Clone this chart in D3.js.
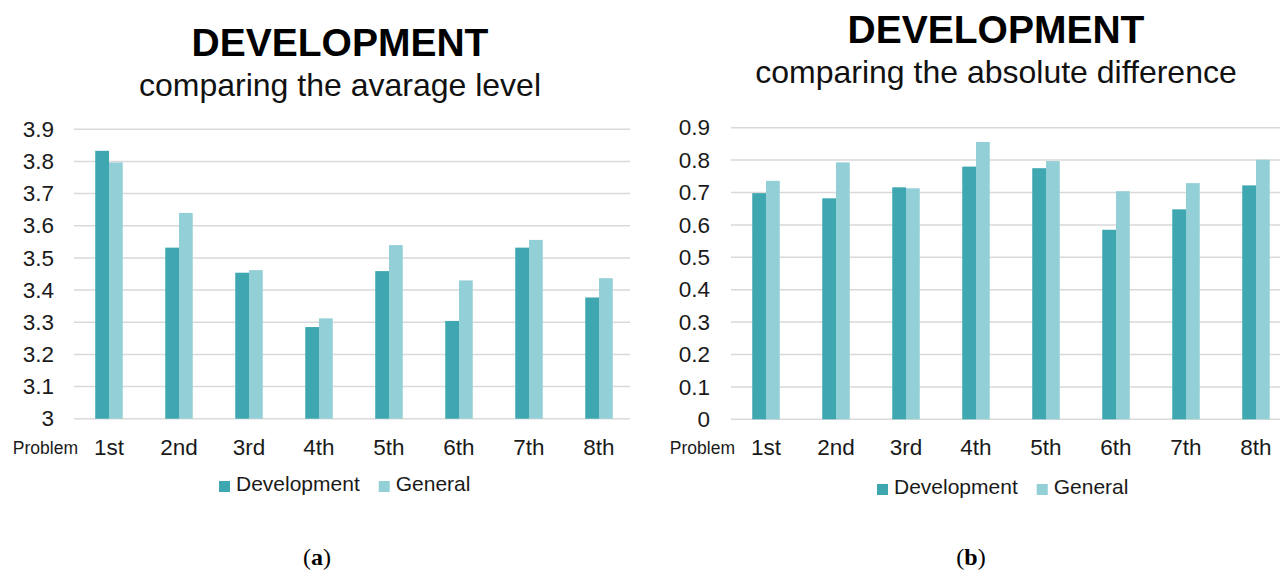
<!DOCTYPE html>
<html>
<head>
<meta charset="utf-8">
<script src="https://cdn.jsdelivr.net/npm/d3@7"></script>
<style>
  body { margin: 0; background: #fff; }
  svg { display: block; font-family: "Liberation Sans", Arial, sans-serif; }
</style>
</head>
<body>
<svg width="1280" height="572"></svg>
<script>
// problems on the x axis
const problems = ["1st", "2nd", "3rd", "4th", "5th", "6th", "7th", "8th"];
const seriesNames = ["Development", "General"];
const colors = ["#3ea7b0", "#93cfd6"];

// (a) average level
const avgDevelopment = [3.833, 3.532, 3.454, 3.285, 3.459, 3.304, 3.532, 3.377];
const avgGeneral     = [3.797, 3.640, 3.462, 3.312, 3.540, 3.430, 3.556, 3.437];
const avgTicks = [3, 3.1, 3.2, 3.3, 3.4, 3.5, 3.6, 3.7, 3.8, 3.9];

// (b) absolute difference
const absDevelopment = [0.698, 0.682, 0.716, 0.780, 0.775, 0.585, 0.648, 0.722];
const absGeneral     = [0.736, 0.793, 0.713, 0.856, 0.797, 0.704, 0.729, 0.801];
const absTicks = [0, 0.1, 0.2, 0.3, 0.4, 0.5, 0.6, 0.7, 0.8, 0.9];

const svg = d3.select("svg");

function panel(opt) {
  const g = svg.append("g");

  const x = d3.scaleBand().domain(problems).range(opt.xRange);
  const sub = d3.scaleBand().domain(seriesNames)
    .range([(x.step() - 27.5) / 2, (x.step() + 27.5) / 2]);
  const y = d3.scaleLinear().domain(opt.yDomain).range(opt.yRange);

  // titles
  g.append("text").attr("x", opt.cx).attr("y", opt.titleY)
    .attr("text-anchor", "middle").attr("font-size", 39).attr("font-weight", "bold")
    .attr("fill", "#000").text("DEVELOPMENT");
  g.append("text").attr("x", opt.cx).attr("y", opt.titleY + 40)
    .attr("text-anchor", "middle").attr("font-size", 32)
    .attr("fill", "#111").text(opt.subtitle);

  // gridlines
  g.selectAll(".grid").data(opt.ticks).enter().append("line")
    .attr("x1", opt.xRange[0]).attr("x2", opt.gridEnd)
    .attr("y1", d => y(d)).attr("y2", d => y(d))
    .attr("stroke", "#d9d9d9").attr("stroke-width", 1.5);

  // y axis labels
  const yAxis = g.append("g").attr("transform", `translate(${opt.labelX},0)`)
    .call(d3.axisLeft(y).tickValues(opt.ticks).tickSize(0).tickPadding(0)
      .tickFormat(d => d3.format("")(+d.toFixed(1))));
  yAxis.select(".domain").remove();
  yAxis.selectAll("text").attr("font-size", 22.5).attr("fill", "#1a1a1a")
    .attr("font-family", "Liberation Sans, Arial, sans-serif");

  // bars
  const rows = problems.map((p, i) => ({ p, vals: [opt.dev[i], opt.gen[i]] }));
  const groups = g.selectAll(".grp").data(rows).enter().append("g")
    .attr("transform", d => `translate(${x(d.p)},0)`);
  groups.selectAll("rect").data(d => d.vals.map((v, k) => ({ k, v }))).enter().append("rect")
    .attr("x", d => sub(seriesNames[d.k]))
    .attr("width", sub.bandwidth())
    .attr("y", d => y(d.v))
    .attr("height", d => y(opt.yDomain[0]) - y(d.v))
    .attr("fill", d => colors[d.k]);

  // x labels
  g.selectAll(".xl").data(problems).enter().append("text")
    .attr("x", d => x(d) + x.step() / 2).attr("y", 455)
    .attr("text-anchor", "middle").attr("font-size", 22.5).attr("fill", "#1a1a1a")
    .text(d => d);
  g.append("text").attr("x", opt.problemX).attr("y", 454)
    .attr("text-anchor", "end").attr("font-size", 17.5).attr("fill", "#1a1a1a")
    .text("Problem");

  // legend
  let lx = opt.legendX;
  seriesNames.forEach((s, k) => {
    g.append("rect").attr("x", lx).attr("y", opt.legendY - 10)
      .attr("width", 11).attr("height", 11).attr("fill", colors[k]);
    const t = g.append("text").attr("x", lx + 17).attr("y", opt.legendY)
      .attr("font-size", 21).attr("fill", "#1a1a1a").text(s);
    lx += 17 + t.node().getComputedTextLength() + 19;
  });

  // caption
  const cap = g.append("text").attr("x", opt.capX).attr("y", 565)
    .attr("text-anchor", "middle").attr("font-size", 24)
    .attr("font-family", "Liberation Serif, serif").attr("fill", "#000");
  cap.append("tspan").text("(");
  cap.append("tspan").attr("font-weight", "bold").text(opt.cap);
  cap.append("tspan").text(")");
}

panel({
  cx: 340, titleY: 56, subtitle: "comparing the avarage level",
  xRange: [74, 634], gridEnd: 630, yDomain: [3, 3.9], yRange: [418.7, 129.3],
  ticks: avgTicks, dev: avgDevelopment, gen: avgGeneral,
  labelX: 54, problemX: 78, legendX: 219, legendY: 491, capX: 317, cap: "a"
});

panel({
  cx: 996, titleY: 43, subtitle: "comparing the absolute difference",
  xRange: [731, 1291], gridEnd: 1280, yDomain: [0, 0.9], yRange: [419.3, 127.7],
  ticks: absTicks, dev: absDevelopment, gen: absGeneral,
  labelX: 710, problemX: 735, legendX: 877, legendY: 494, capX: 971, cap: "b"
});
</script>
</body>
</html>
